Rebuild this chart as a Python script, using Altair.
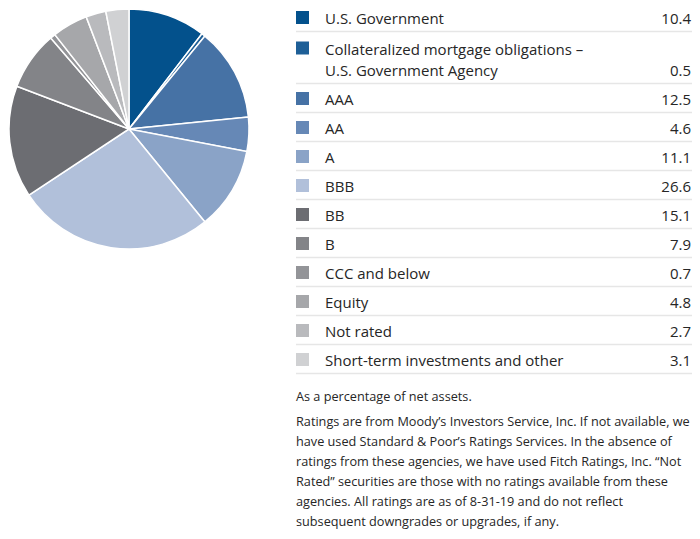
import altair as alt
import pandas as pd

# ---------------- data ----------------
categories = [
    "U.S. Government",
    "Collateralized mortgage obligations – U.S. Government Agency",
    "AAA",
    "AA",
    "A",
    "BBB",
    "BB",
    "B",
    "CCC and below",
    "Equity",
    "Not rated",
    "Short-term investments and other",
]
label_lines = [
    ["U.S. Government"],
    ["Collateralized mortgage obligations –", "U.S. Government Agency"],
    ["AAA"],
    ["AA"],
    ["A"],
    ["BBB"],
    ["BB"],
    ["B"],
    ["CCC and below"],
    ["Equity"],
    ["Not rated"],
    ["Short-term investments and other"],
]
values = [10.4, 0.5, 12.5, 4.6, 11.1, 26.6, 15.1, 7.9, 0.7, 4.8, 2.7, 3.1]
colors = [
    "#03518c", "#1e5f97", "#4672a5", "#6688b6", "#8aa3c7", "#b1c0da",
    "#6c6d72", "#838488", "#939498", "#a6a7aa", "#b9babd", "#d0d1d3",
]
notes = [
    ["As a percentage of net assets."],
    [
        "Ratings are from Moody’s Investors Service, Inc. If not available, we",
        "have used Standard & Poor’s Ratings Services. In the absence of",
        "ratings from these agencies, we have used Fitch Ratings, Inc. “Not",
        "Rated” securities are those with no ratings available from these",
        "agencies. All ratings are as of 8-31-19 and do not reflect",
        "subsequent downgrades or upgrades, if any.",
    ],
]

# ---------------- layout ----------------
W, H = 684, 523
PIE_X, PIE_Y, PIE_R = 121, 121, 120
SQ_X, LABEL_X, VALUE_X = 294.5, 317, 683
RULE_X0, RULE_X1 = 288, 684
FIRST_BOTTOM, PITCH, EXTRA_LINE, LINE_H = 23.5, 29.0, 23, 21.5
NOTE_GAP, PARA_GAP, NOTE_LH = 23, 25, 20
TEXT_COLOR = "#262626"
FONT = "Open Sans"

pie_df = pd.DataFrame({"category": categories, "value": values, "idx": range(len(categories))})

sq_rows, rule_rows, lab_rows, val_rows = [], [], [], []
bottom = FIRST_BOTTOM - PITCH
for i, (cat, lines, v) in enumerate(zip(categories, label_lines, values)):
    bottom += PITCH + EXTRA_LINE * (len(lines) - 1)
    last_base = bottom - 7.5
    first_base = last_base - LINE_H * (len(lines) - 1)
    sq_rows.append({"category": cat, "x": SQ_X, "y": first_base - 6.5})
    rule_rows.append({"x0": RULE_X0, "x1": RULE_X1, "y": bottom})
    for k, ln in enumerate(lines):
        lab_rows.append({"x": LABEL_X, "y": first_base + LINE_H * k, "text": ln})
    val_rows.append({"x": VALUE_X, "y": last_base, "text": f"{v:.1f}"})

note_rows = []
ny = bottom + NOTE_GAP
for p, para in enumerate(notes):
    if p > 0:
        ny += PARA_GAP
    for k, ln in enumerate(para):
        note_rows.append({"x": RULE_X0, "y": ny + NOTE_LH * k, "text": ln})
    ny += NOTE_LH * (len(para) - 1)

xs = alt.Scale(domain=[0, W], range=[0, W], nice=False, zero=False)
ys = alt.Scale(domain=[0, H], range=[0, H], nice=False, zero=False)
cscale = alt.Scale(domain=categories, range=colors)

pie = alt.Chart(pie_df).mark_arc(radius=PIE_R, stroke="white", strokeWidth=1.5).encode(
    theta=alt.Theta("value:Q", stack=True),
    order=alt.Order("idx:Q"),
    color=alt.Color("category:N", scale=cscale, legend=None),
    x=alt.value(PIE_X),
    y=alt.value(PIE_Y),
)

squares = alt.Chart(pd.DataFrame(sq_rows)).mark_square(size=169, opacity=1).encode(
    x=alt.X("x:Q", scale=xs, axis=None),
    y=alt.Y("y:Q", scale=ys, axis=None),
    color=alt.Color("category:N", scale=cscale, legend=None),
)

rules = alt.Chart(pd.DataFrame(rule_rows)).mark_rule(color="#e6e6e6", strokeWidth=1.5).encode(
    x=alt.X("x0:Q", scale=xs, axis=None),
    x2="x1:Q",
    y=alt.Y("y:Q", scale=ys, axis=None),
)

labels = alt.Chart(pd.DataFrame(lab_rows)).mark_text(
    align="left", baseline="alphabetic", font=FONT, fontSize=15, color=TEXT_COLOR
).encode(
    x=alt.X("x:Q", scale=xs, axis=None),
    y=alt.Y("y:Q", scale=ys, axis=None),
    text="text:N",
)

vals = alt.Chart(pd.DataFrame(val_rows)).mark_text(
    align="right", baseline="alphabetic", font=FONT, fontSize=15, color=TEXT_COLOR
).encode(
    x=alt.X("x:Q", scale=xs, axis=None),
    y=alt.Y("y:Q", scale=ys, axis=None),
    text="text:N",
)

note_text = alt.Chart(pd.DataFrame(note_rows)).mark_text(
    align="left", baseline="middle", font=FONT, fontSize=12.7, color=TEXT_COLOR
).encode(
    x=alt.X("x:Q", scale=xs, axis=None),
    y=alt.Y("y:Q", scale=ys, axis=None),
    text="text:N",
)

chart = alt.layer(pie, rules, squares, labels, vals, note_text).properties(
    width=W, height=H, padding=0, autosize=alt.AutoSizeParams(type="none")
).configure_view(stroke=None)

chart.save("out.html", embed_options={"renderer": "svg", "actions": False})
